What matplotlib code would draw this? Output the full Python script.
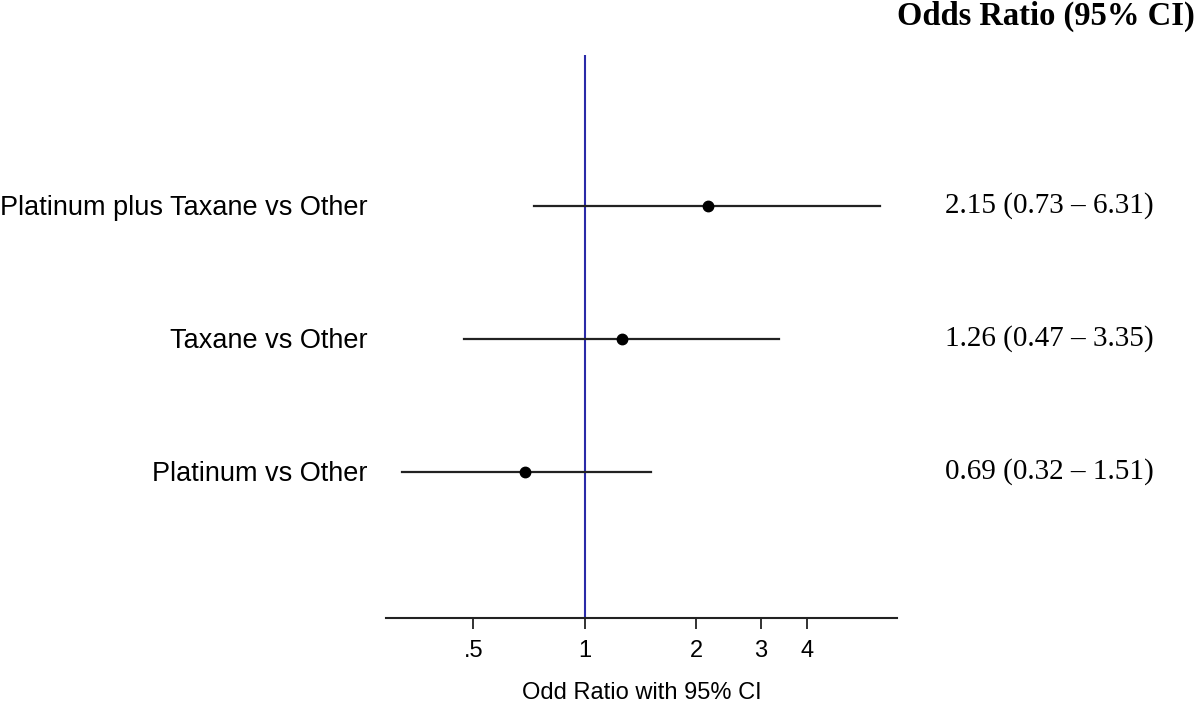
import matplotlib
matplotlib.use("Agg")
import matplotlib.pyplot as plt
from matplotlib.ticker import FixedLocator, FixedFormatter, NullLocator

# Forest plot data (bottom to top)
labels = ["Platinum vs Other", "Taxane vs Other", "Platinum plus Taxane vs Other"]
odds = [0.69, 1.26, 2.15]
ci_low = [0.32, 0.47, 0.73]
ci_high = [1.51, 3.35, 6.31]
tick_vals = [0.5, 1, 2, 3, 4]
tick_labels = [".5", "1", "2", "3", "4"]

fig = plt.figure(figsize=(12, 7.03), dpi=100)
ax = fig.add_axes([0.3217, 0.1209, 0.7475 - 0.3217, 0.9218 - 0.1209])

ypos = list(range(1, len(labels) + 1))
for y, o, lo, hi in zip(ypos, odds, ci_low, ci_high):
    ax.plot([lo, hi], [y, y], color="#222222", lw=1.6, zorder=2)
    ax.plot(o, y, "o", color="black", ms=7.5, zorder=3)

ax.axvline(1, color="#2a2aa8", lw=1.5, zorder=1)

ax.set_xscale("log")
ax.set_xlim(0.29, 7.0)
ax.set_ylim(-0.1, 4.135)

for s in ["top", "left", "right"]:
    ax.spines[s].set_visible(False)
ax.spines["bottom"].set_linewidth(1.5)
ax.spines["bottom"].set_color("#222222")

ax.xaxis.set_major_locator(FixedLocator(tick_vals))
ax.xaxis.set_major_formatter(FixedFormatter(tick_labels))
ax.xaxis.set_minor_locator(NullLocator())
ax.tick_params(axis="x", length=8, width=1.3, color="#222222", pad=8,
               labelsize=17)
for t in ax.get_xticklabels():
    t.set_fontfamily("Liberation Sans")
ax.set_yticks([])
ax.set_xlabel("Odd Ratio with 95% CI", fontsize=17, family="Liberation Sans",
              labelpad=14)

# left labels and right-hand estimate text
for y, lab, o, lo, hi in zip(ypos, labels, odds, ci_low, ci_high):
    yf = ax.transData.transform((1, y))[1] / fig.bbox.height
    ax.text(368 / 1200, yf - 0.003, lab, transform=fig.transFigure,
            ha="right", va="center", fontsize=19.5, family="Liberation Sans")
    ax.text(945 / 1200, yf, f"{o:.2f} ({lo:.2f} \u2013 {hi:.2f})",
            transform=fig.transFigure,
            ha="left", va="center", fontsize=21, family="Liberation Serif")

fig.text(0.996, 0.976, "Odds Ratio (95% CI)", ha="right", va="center",
         fontsize=23.5, fontweight="bold", family="Liberation Serif")

fig.savefig("out.png", dpi=100)
